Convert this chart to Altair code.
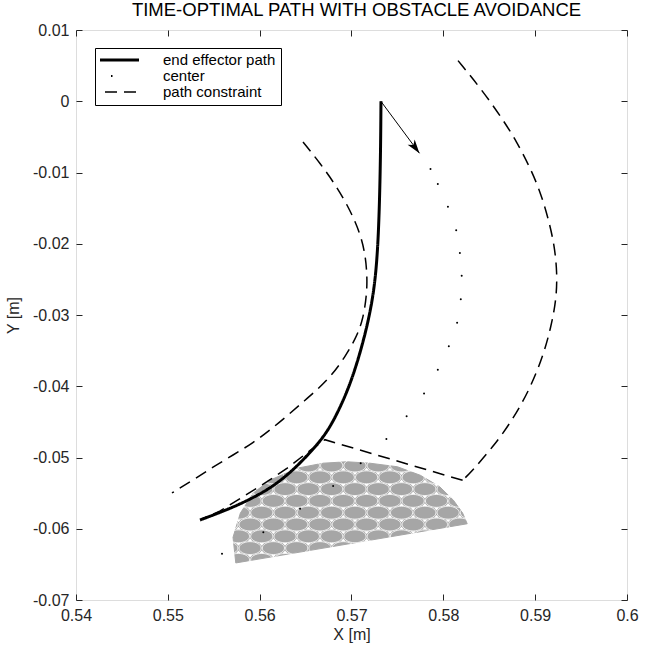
import math
import altair as alt
import pandas as pd

# ---------------- values ----------------
# end effector path (thick solid)
ee_x = [0.57321, 0.57316, 0.57300, 0.57278, 0.57245, 0.57191, 0.57104, 0.56995, 0.56875, 0.56733,
        0.56548, 0.56309, 0.56058, 0.55699, 0.55350]
ee_y = [0.0, -0.00825, -0.01667, -0.02228, -0.02649, -0.03042, -0.03491, -0.03940, -0.04305, -0.04656,
        -0.04937, -0.05246, -0.05484, -0.05709, -0.05877]

# center points (dots)
center_x = [0.5786, 0.5794, 0.5805, 0.5814, 0.5818, 0.5820, 0.5819, 0.5815, 0.5806, 0.5794,
            0.5779, 0.5760, 0.5738, 0.5710, 0.5680, 0.5644, 0.5604, 0.5559]
center_y = [-0.0095, -0.0116, -0.0148, -0.0181, -0.0213, -0.0245, -0.0278, -0.0311, -0.0344, -0.0377,
            -0.0410, -0.0442, -0.0474, -0.0508, -0.0540, -0.0572, -0.0605, -0.0635]

# path constraint: outer (left) boundary
outer_x = [0.56472, 0.56657, 0.56842, 0.56984, 0.57093, 0.57147, 0.57169, 0.57169, 0.57125, 0.57049,
           0.56929, 0.56788, 0.56635, 0.56472, 0.56298, 0.56113, 0.55927, 0.55710, 0.55492, 0.55274,
           0.55045]
outer_y = [-0.00572, -0.00867, -0.01204, -0.01526, -0.01849, -0.02130, -0.02411, -0.02691, -0.03070, -0.03323,
           -0.03589, -0.03842, -0.04039, -0.04221, -0.04418, -0.04614, -0.04796, -0.04965, -0.05133, -0.05316,
           -0.05498]

# path constraint: inner (right) boundary, curved part
inner_x = [0.5816, 0.5842, 0.5865, 0.5880, 0.5894, 0.5905, 0.5914, 0.5921, 0.5924, 0.5923,
           0.5917, 0.5909, 0.5894, 0.5873, 0.5854, 0.5832, 0.5821]
inner_y = [0.0057, 0.0016, -0.0026, -0.0057, -0.0092, -0.0125, -0.0163, -0.0202, -0.0241, -0.0279,
           -0.0318, -0.0356, -0.0405, -0.0452, -0.0485, -0.0518, -0.0532]

# path constraint: straight part around the obstacle
notch_x = [0.5821, 0.5671, 0.5655, 0.5630, 0.5608, 0.5582, 0.5557, 0.5538]
notch_y = [-0.0532, -0.0475, -0.0490, -0.0515, -0.0534, -0.0555, -0.0575, -0.0586]

# obstacle outline (half disc)
obs_x = [0.5574, 0.5571, 0.5579, 0.5593, 0.5611, 0.5641, 0.5669, 0.5695, 0.5720, 0.5750,
         0.5775, 0.5796, 0.5811, 0.5821, 0.5826]
obs_y = [-0.0648, -0.0612, -0.0578, -0.0550, -0.0532, -0.0515, -0.0508, -0.0506, -0.0508, -0.0513,
         -0.0525, -0.0541, -0.0560, -0.0578, -0.0593]

# arrow (start, tip)
arrow_x = [0.5732, 0.5774]
arrow_y = [0.0, -0.0073]

series_names = ["end effector path", "center", "path constraint"]
x_ticks = [0.54, 0.55, 0.56, 0.57, 0.58, 0.59, 0.6]
y_ticks = [-0.07, -0.06, -0.05, -0.04, -0.03, -0.02, -0.01, 0.0, 0.01]
title_text = "TIME-OPTIMAL PATH WITH OBSTACLE AVOIDANCE"

# hatch pattern of the obstacle (lattice of ellipses)
lat_x0, lat_y0 = 0.56657, -0.05278
lat_dx, lat_dy = 0.002537, 0.001656

# ---------------- styling ----------------
W, H = 551, 570
FONT = "Liberation Sans"
INK = "#262626"
OBST = "#a6a6a6"

xs = alt.Scale(domain=[0.54, 0.6], nice=False, zero=False)
ys = alt.Scale(domain=[-0.07, 0.01], nice=False, zero=False)
dash_scale = alt.Scale(domain=series_names, range=[[1, 0], [0, 25, 1.5, 100], [12, 7]])

legend = alt.Legend(
    title=None, orient="none", legendX=19, legendY=18,
    symbolType="stroke", symbolSize=2809, clipHeight=14, rowPadding=1,
    padding=5, symbolOffset=5, labelOffset=43,
    strokeColor="black", fillColor="white", cornerRadius=0,
    labelFont=FONT, labelFontSize=15, labelColor="black", labelLimit=300,
    symbolStrokeColor="black",
    symbolStrokeWidth=alt.ExprRef(
        expr="datum.value == 'end effector path' ? 3 : (datum.value == 'center' ? 2 : 1.5)"),
)


def frame(xv, yv, series, seg):
    return pd.DataFrame({"x": xv, "y": yv, "series": series, "seg": seg, "i": list(range(len(xv)))})


def inside(px, py, vx, vy):
    n = len(vx)
    c = False
    j = n - 1
    for k in range(n):
        if ((vy[k] > py) != (vy[j] > py)) and (
                px < (vx[j] - vx[k]) * (py - vy[k]) / (vy[j] - vy[k]) + vx[k]):
            c = not c
        j = k
    return c


ee_df = frame(ee_x, ee_y, "end effector path", "ee")
curve_df = pd.concat([frame(outer_x, outer_y, "path constraint", "outer"),
                      frame(inner_x, inner_y, "path constraint", "inner")])
notch_df = frame(notch_x, notch_y, "path constraint", "notch")
center_df = pd.DataFrame({"x": center_x, "y": center_y})
obs_df = pd.DataFrame({"x": obs_x + [obs_x[0]], "y": obs_y + [obs_y[0]],
                       "i": list(range(len(obs_x) + 1))})

xmin, xmax, ymin, ymax = min(obs_x), max(obs_x), min(obs_y), max(obs_y)
ell, up, dn = [], [], []
for i in range(-3, 14):
    for j in range(-10, 12):
        cx = lat_x0 + (j + 0.5 * (i % 2)) * lat_dx
        cy = lat_y0 - i * lat_dy
        if xmin - lat_dx < cx < xmax + lat_dx and ymin - lat_dy < cy < ymax + lat_dy:
            ell.append((cx, cy))
        ux, uy = cx + lat_dx / 2, cy - lat_dy / 3
        if inside(ux, uy, obs_x, obs_y):
            up.append((ux, uy))
        qx, qy = cx + lat_dx, cy - 2 * lat_dy / 3
        if inside(qx, qy, obs_x, obs_y):
            dn.append((qx, qy))
ell_df = pd.DataFrame(ell, columns=["x", "y"])
up_df = pd.DataFrame(up, columns=["x", "y"])
dn_df = pd.DataFrame(dn, columns=["x", "y"])

arrow_df = pd.DataFrame({"x0": [arrow_x[0]], "y0": [arrow_y[0]], "x1": [arrow_x[1]], "y1": [arrow_y[1]]})
ddx = (arrow_x[1] - arrow_x[0]) * W / 0.06
ddy = (arrow_y[0] - arrow_y[1]) * H / 0.08
head_angle = math.degrees(math.atan2(ddx, -ddy)) % 360

X = lambda: alt.X("x:Q", scale=xs, axis=None)
Y = lambda: alt.Y("y:Q", scale=ys, axis=None)

obstacle = alt.Chart(obs_df).mark_line(fill=OBST, stroke=OBST, strokeWidth=1).encode(
    x=X(), y=Y(), order="i:Q")

ELLIPSE = "M-1,0A1,0.58,0,1,0,1,0A1,0.58,0,1,0,-1,0Z"
hatch = alt.Chart(ell_df).mark_point(shape=ELLIPSE, size=493, filled=False, color="white",
                                     strokeWidth=0.8, opacity=1).encode(x=X(), y=Y())
gaps_up = alt.Chart(up_df).mark_point(shape="M0,-0.7L1.1,0.5L-1.1,0.5Z", size=22, filled=True,
                                      color="white", opacity=1).encode(x=X(), y=Y())
gaps_dn = alt.Chart(dn_df).mark_point(shape="M0,0.7L1.1,-0.5L-1.1,-0.5Z", size=22, filled=True,
                                      color="white", opacity=1).encode(x=X(), y=Y())


def line_layer(df, interp, width):
    return alt.Chart(df).mark_line(color="black", strokeWidth=width, interpolate=interp).encode(
        x=X(), y=Y(),
        strokeDash=alt.StrokeDash("series:N", scale=dash_scale, legend=legend),
        detail="seg:N", order="i:Q")


constraint_curves = line_layer(curve_df, "basis", 1.5)
constraint_notch = line_layer(notch_df, "linear", 1.5)
ee_line = line_layer(ee_df, "basis", 3)

centers = alt.Chart(center_df).mark_circle(size=4, color="black", opacity=1).encode(x=X(), y=Y())

arrow_shaft = alt.Chart(arrow_df).mark_rule(color="black", strokeWidth=1).encode(
    x=alt.X("x0:Q", scale=xs, axis=None), y=alt.Y("y0:Q", scale=ys, axis=None),
    x2="x1:Q", y2="y1:Q")
arrow_head = alt.Chart(arrow_df).mark_point(
    shape="M0,0L0.75,2.4L0,1.75L-0.75,2.4Z", size=135, filled=True, color="black",
    opacity=1, angle=head_angle).encode(
    x=alt.X("x1:Q", scale=xs, axis=None), y=alt.Y("y1:Q", scale=ys, axis=None))

dummy = pd.DataFrame({"x": [0.57], "y": [-0.03]})
LBL = "datum.value == 0 ? '0' : toString(round(datum.value * 100) / 100)"

x_main = alt.Axis(values=x_ticks, title="X [m]", grid=False, domain=False, ticks=False, tickSize=0,
                  labelPadding=7, labelFlush=False, labelOverlap=False, labelExpr=LBL,
                  labelFont=FONT, labelFontSize=16, labelColor=INK,
                  titleFont=FONT, titleFontSize=16, titleFontWeight="normal", titleColor=INK,
                  titlePadding=3)
y_main = alt.Axis(values=y_ticks, title="Y [m]", grid=False, domain=False, ticks=False, tickSize=0,
                  labelPadding=7, labelFlush=False, labelOverlap=False, labelExpr=LBL,
                  labelFont=FONT, labelFontSize=16, labelColor=INK,
                  titleFont=FONT, titleFontSize=16, titleFontWeight="normal", titleColor=INK,
                  titlePadding=11)


def tick_axis(values, orient, offset):
    return alt.Axis(values=values, orient=orient, offset=offset, grid=False, domain=False,
                    labels=False, ticks=True, tickSize=6, tickColor=INK, tickWidth=1, title=None)


def axis_layer(xa, ya):
    return alt.Chart(dummy).mark_point(opacity=0).encode(
        x=alt.X("x:Q", scale=xs, axis=xa), y=alt.Y("y:Q", scale=ys, axis=ya))


axes_main = axis_layer(x_main, y_main)
axes_in1 = axis_layer(tick_axis(x_ticks, "top", -H), tick_axis(y_ticks, "right", -W))
axes_in2 = axis_layer(tick_axis(x_ticks, "bottom", -H), tick_axis(y_ticks, "left", -W))

chart = alt.layer(
    obstacle, hatch, gaps_up, gaps_dn,
    constraint_curves, constraint_notch, ee_line,
    centers, arrow_shaft, arrow_head,
    axes_main, axes_in1, axes_in2,
).resolve_axis(x="independent", y="independent").properties(
    width=W, height=H,
    title=alt.TitleParams(title_text, font=FONT, fontSize=18.5, fontWeight="normal", color="black",
                          anchor="middle", frame="group", baseline="alphabetic", offset=5,
                          dy=17, dx=5),
    autosize=alt.AutoSizeParams(type="none"),
    padding={"left": 76, "top": 30, "right": 31, "bottom": 49},
).configure_view(stroke=INK, strokeWidth=1).configure(font=FONT, background="white")

chart.save("out.html", embed_options={"renderer": "svg", "actions": False})
